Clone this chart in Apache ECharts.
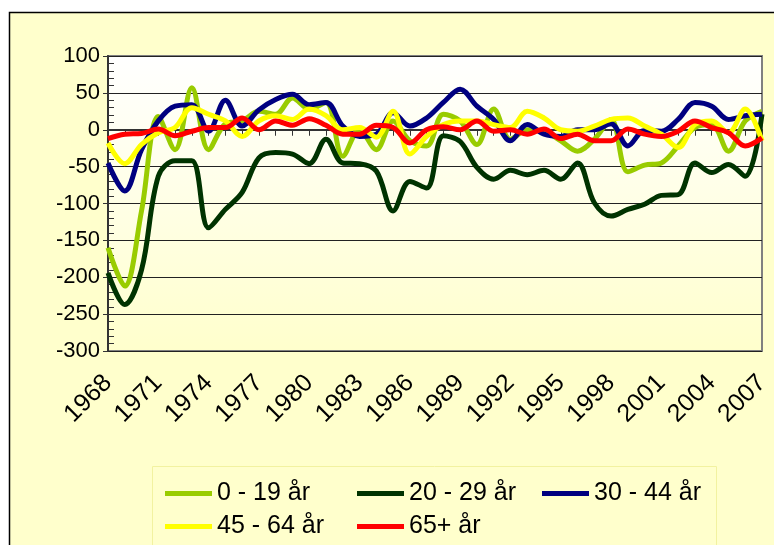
<!DOCTYPE html>
<html>
<head>
<meta charset="utf-8">
<script src="https://cdn.jsdelivr.net/npm/echarts@6/dist/echarts.min.js"></script>
<style>
  html, body { margin: 0; padding: 0; background: #fff; }
  #chart { width: 774px; height: 545px; }
</style>
</head>
<body>
<div id="chart"></div>
<script>
// years on the category axis
const years = [
  '1968', '1969', '1970', '1971', '1972', '1973', '1974', '1975', '1976', '1977',
  '1978', '1979', '1980', '1981', '1982', '1983', '1984', '1985', '1986', '1987',
  '1988', '1989', '1990', '1991', '1992', '1993', '1994', '1995', '1996', '1997',
  '1998', '1999', '2000', '2001', '2002', '2003', '2004', '2005', '2006', '2007'
];

const seriesNames = ['0 - 19 år', '20 - 29 år', '30 - 44 år', '45 - 64 år', '65+ år'];

// values
const age0to19 = [
  -160, -212, -110, 18, -27, 57, -27, 8, 12, 25,
  21, 43, 28, 37, -36, 0, -27, 12, -15, -22,
  21, 12, -20, 28, -13, 0, -2, -15, -29, -13,
  14, -57, -48, -45, -22, 3, 7, -29, 12, 25
];
const age20to29 = [
  -194, -237, -190, -63, -42, -42, -133, -108, -85, -38,
  -31, -33, -46, -13, -45, -46, -56, -110, -70, -79,
  -8, -16, -51, -67, -55, -61, -55, -67, -45, -99,
  -117, -108, -101, -89, -88, -45, -58, -47, -63, 21
];
const age30to44 = [
  -45, -83, -27, 12, 32, 34, -2, 40, 5, 27,
  41, 48, 34, 37, 5, -9, -6, 23, 5, 16,
  37, 55, 32, 14, -15, 7, -6, -9, 0, 0,
  8, -22, -1, -2, 14, 37, 32, 14, 19, 21
];
const age45to64 = [
  -18, -46, -20, -4, 3, 30, 21, 12, -9, 12,
  19, 14, 28, 19, 0, 3, -10, 25, -33, -9,
  7, 12, 12, 7, 3, 25, 16, 0, -2, 5,
  14, 16, 5, -6, -24, 7, 12, -4, 28, -15
];
const age65plus = [
  -12, -6, -5, 1, -8, -2, 3, 3, 16, 0,
  12, 6, 15, 6, -6, -6, 6, 3, -18, 0,
  4, 0, 12, -2, 0, -6, 1, -12, -6, -15,
  -15, 1, -6, -9, -2, 12, 3, -4, -22, -11
];

const colors = ['#99CC00', '#003300', '#000080', '#FFFF00', '#FF0000'];
const font = 'Liberation Sans, Arial, sans-serif';

const chart = echarts.init(document.getElementById('chart'));

const makeSeries = (name, data, color) => ({
  name,
  type: 'line',
  data,
  smooth: 0.35,
  symbol: 'none',
  lineStyle: { width: 5, color },
  itemStyle: { color }
});

// one legend per column so the two rows line up like the original
const makeLegend = (left, names) => ({
  left,
  top: 476,
  orient: 'vertical',
  icon: 'rect',
  itemWidth: 47,
  itemHeight: 5,
  itemGap: 8,
  data: names,
  textStyle: { fontSize: 25, fontFamily: font, color: '#000' }
});

chart.setOption({
  animation: false,
  backgroundColor: '#ffffff',
  color: colors,
  graphic: [
    {
      type: 'rect',
      z: -10,
      shape: { x: 9.5, y: 12.5, width: 800, height: 600 },
      style: { fill: '#FFFFCC', stroke: '#000', lineWidth: 1.5 }
    },
    {
      type: 'rect',
      z: -9,
      shape: { x: 152.5, y: 466.5, width: 564, height: 100 },
      style: { fill: 'none', stroke: '#F2F2A0', lineWidth: 1 }
    }
  ],
  grid: {
    left: 108,
    right: 12,
    top: 56,
    bottom: 194,
    outerBoundsMode: 'none',
    show: true,
    borderColor: '#808080',
    borderWidth: 2,
    backgroundColor: new echarts.graphic.LinearGradient(0, 0, 0, 1, [
      { offset: 0, color: '#FFFFFF' },
      { offset: 1, color: '#FFFFCC' }
    ])
  },
  legend: [
    makeLegend(160, [seriesNames[0], seriesNames[3]]),
    makeLegend(352, [seriesNames[1], seriesNames[4]]),
    makeLegend(537, [seriesNames[2]])
  ],
  xAxis: {
    type: 'category',
    data: years,
    boundaryGap: false,
    axisLine: { lineStyle: { color: '#333', width: 2 } },
    axisTick: { interval: 0, length: 6, lineStyle: { color: '#333' } },
    axisLabel: {
      interval: 2,
      rotate: 45,
      margin: 28,
      fontSize: 25,
      fontFamily: font,
      color: '#000'
    },
    splitLine: { show: false }
  },
  yAxis: [
    {
      type: 'value',
      min: -300,
      max: 100,
      interval: 50,
      axisLine: { show: true, lineStyle: { color: '#333', width: 2 } },
      axisTick: { show: true, length: 5, lineStyle: { color: '#333' } },
      axisLabel: { margin: 8, fontSize: 22, fontFamily: font, color: '#000' },
      splitLine: { lineStyle: { color: '#222', width: 1 } }
    },
    {
      type: 'value',
      position: 'left',
      min: -300,
      max: 100,
      interval: 50,
      axisLine: { show: false },
      axisTick: { show: false, inside: true },
      minorTick: { show: true, splitNumber: 5, length: 6, lineStyle: { color: '#333' } },
      axisLabel: { show: false },
      splitLine: { show: false }
    }
  ],
  series: [
    makeSeries(seriesNames[0], age0to19, colors[0]),
    makeSeries(seriesNames[1], age20to29, colors[1]),
    makeSeries(seriesNames[2], age30to44, colors[2]),
    makeSeries(seriesNames[3], age45to64, colors[3]),
    makeSeries(seriesNames[4], age65plus, colors[4])
  ]
});
</script>
</body>
</html>
